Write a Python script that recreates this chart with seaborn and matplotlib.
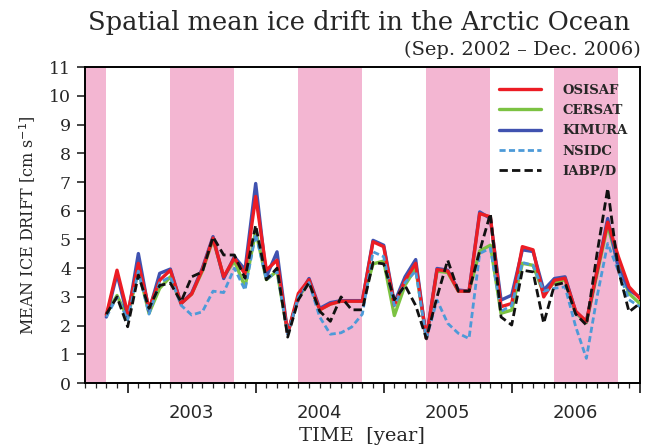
import numpy as np
import pandas as pd
import matplotlib
matplotlib.use("Agg")
import matplotlib.pyplot as plt
import seaborn as sns
from matplotlib.lines import Line2D

# ---- data (monthly means, Oct 2002 .. Dec 2006, plotted at month end) ----
month_index = list(range(2, 53))  # months since 1 Sep 2002 (end of month)

osisaf = [2.37, 3.93, 2.43, 4.17, 2.60, 3.58, 3.93, 2.77, 3.10, 3.95, 5.05, 3.70, 4.35, 3.80, 6.50,
          3.93, 4.28, 1.73, 3.12, 3.60, 2.55, 2.75, 2.85, 2.85, 2.85, 4.92, 4.75, 2.71, 3.58, 4.17,
          1.55, 3.95, 3.90, 3.20, 3.20, 5.90, 5.79, 2.66, 2.77, 4.75, 4.64, 3.00, 3.58, 3.65, 2.50,
          2.15, 3.90, 5.60, 4.40, 3.35, 2.95]
cersat = [2.40, 3.05, 2.26, 3.95, 2.43, 3.30, 3.70, 2.77, 3.10, 3.90, 5.00, 3.70, 4.25, 3.35, 5.30,
          3.60, 3.90, 1.73, 3.00, 3.50, 2.55, 2.75, 2.85, 2.85, 2.85, 4.15, 4.25, 2.35, 3.41, 4.00,
          1.55, 3.90, 3.85, 3.20, 3.20, 4.60, 4.80, 2.43, 2.54, 4.17, 4.10, 3.12, 3.50, 3.60, 2.45,
          2.10, 3.80, 5.50, 4.10, 3.12, 2.77]
kimura = [2.30, 3.80, 2.30, 4.51, 2.50, 3.82, 3.97, 2.77, 3.13, 4.00, 5.10, 3.64, 4.40, 3.95, 6.95,
          3.70, 4.57, 1.73, 3.00, 3.64, 2.60, 2.80, 2.87, 2.87, 2.87, 4.97, 4.80, 2.80, 3.70, 4.30,
          1.55, 3.99, 3.93, 3.24, 3.20, 5.96, 5.73, 2.89, 3.06, 4.64, 4.58, 3.24, 3.64, 3.70, 2.48,
          2.13, 3.90, 5.73, 4.00, 3.24, 3.00]
nsidc = [2.30, 3.00, 2.20, 3.90, 2.40, 3.50, 3.70, 2.71, 2.37, 2.48, 3.20, 3.15, 4.00, 3.24, 5.20,
         3.60, 3.90, 1.70, 3.00, 3.50, 2.30, 1.70, 1.75, 1.95, 2.40, 4.57, 4.40, 2.70, 3.50, 3.90,
         1.55, 2.89, 2.08, 1.73, 1.55, 4.51, 4.70, 2.50, 2.70, 4.20, 4.10, 3.20, 3.30, 3.35, 1.96,
         0.86, 3.00, 4.86, 3.90, 2.90, 2.66]
iabp = [2.40, 3.00, 1.96, 3.76, 2.60, 3.40, 3.48, 2.83, 3.70, 3.87, 5.09, 4.46, 4.46, 3.65, 5.50,
        3.60, 4.00, 1.60, 2.90, 3.50, 2.50, 2.15, 3.00, 2.55, 2.55, 4.20, 4.15, 2.90, 3.40, 2.70,
        1.55, 3.00, 4.28, 3.20, 3.20, 4.60, 5.90, 2.30, 2.02, 3.93, 3.87, 2.08, 3.41, 3.50, 2.40,
        2.02, 4.51, 6.78, 3.93, 2.48, 2.77]

sources = ["OSISAF", "CERSAT", "KIMURA", "NSIDC", "IABP/D"]
series = [osisaf, cersat, kimura, nsidc, iabp]

# summer (May-Oct) shading, in months since 1 Sep 2002
summer_start = [0, 8, 20, 32, 44]
summer_end = [2, 14, 26, 38, 50]

year_labels = ["2003", "2004", "2005", "2006"]
year_starts = [4, 16, 28, 40, 52]
year_mids = [10, 22, 34, 46]

colors = {"OSISAF": "#ec1c24", "CERSAT": "#7cc242", "KIMURA": "#4052b0",
          "NSIDC": "#4d9ad8", "IABP/D": "#111111"}
dashes = {"OSISAF": "", "CERSAT": "", "KIMURA": "", "NSIDC": (2.2, 1.2), "IABP/D": (3.0, 1.5)}

df = pd.DataFrame({
    "month": np.tile(month_index, len(sources)),
    "drift": np.concatenate(series),
    "source": np.repeat(sources, len(month_index)),
})

sns.set_style("ticks")
plt.rcParams["font.family"] = ["DejaVu Serif"]

fig = plt.figure(figsize=(6.45, 4.48), dpi=100)
ax = fig.add_axes([0.1318, 0.145, 0.860, 0.705])

for s, e in zip(summer_start, summer_end):
    ax.axvspan(s, e, color="#f3b6d2", lw=0, zorder=0)

draw_order = ["CERSAT", "KIMURA", "OSISAF", "NSIDC", "IABP/D"]
for src in draw_order:
    sub = df[df["source"] == src]
    sns.lineplot(data=sub, x="month", y="drift", ax=ax, color=colors[src],
                 lw=2.4 if src in ("OSISAF", "CERSAT", "KIMURA") else 2.0,
                 dashes=False, legend=False, zorder=3,
                 **({"linestyle": (0, dashes[src])} if dashes[src] else {}))

ax.set_xlim(0, 52)
ax.set_ylim(0, 11)
ax.set_yticks(range(0, 12))
ax.set_yticklabels([str(i) for i in range(0, 12)], fontsize=12.5, family="DejaVu Serif")
ax.set_xticks(year_starts)
ax.set_xticklabels([""] * len(year_starts))
ax.set_xticks(range(0, 53), minor=True)
ax.tick_params(axis="x", which="major", length=7, width=1.3, direction="out")
ax.tick_params(axis="x", which="minor", length=3.5, width=0.9, direction="out")
ax.tick_params(axis="y", which="major", length=6, width=1.2, direction="out", pad=4)
for sp in ax.spines.values():
    sp.set_linewidth(1.4)
    sp.set_color("black")

sec = ax.secondary_xaxis("bottom")
sec.set_xticks(year_mids)
sec.set_xticklabels(year_labels, fontsize=13, family="DejaVu Sans")
sec.tick_params(length=0, pad=15)
sec.spines["bottom"].set_visible(False)

ax.set_xlabel("TIME  [year]", fontsize=14, labelpad=21)
ax.set_ylabel(r"MEAN ICE DRIFT [cm s$^{-1}$]", fontsize=11.5, labelpad=8)

# legend
handles = []
for src in sources:
    ls = "-" if not dashes[src] else (0, dashes[src])
    handles.append(Line2D([0], [0], color=colors[src], lw=2.4 if not dashes[src] else 2.0,
                          linestyle=ls))
leg = ax.legend(handles, sources, loc="upper right", frameon=False,
                prop={"family": "DejaVu Serif", "weight": "bold", "size": 9.5},
                handlelength=3.2, handletextpad=1.6, labelspacing=0.55,
                bbox_to_anchor=(1.0, 0.985))

fig.text(0.556, 0.932, "Spatial mean ice drift in the Arctic Ocean", ha="center",
         va="baseline", fontsize=18.5, family="DejaVu Serif")
fig.text(0.993, 0.878, "(Sep. 2002 \u2013 Dec. 2006)", ha="right", va="baseline",
         fontsize=14, family="DejaVu Serif")

fig.savefig("out.png", dpi=100)
